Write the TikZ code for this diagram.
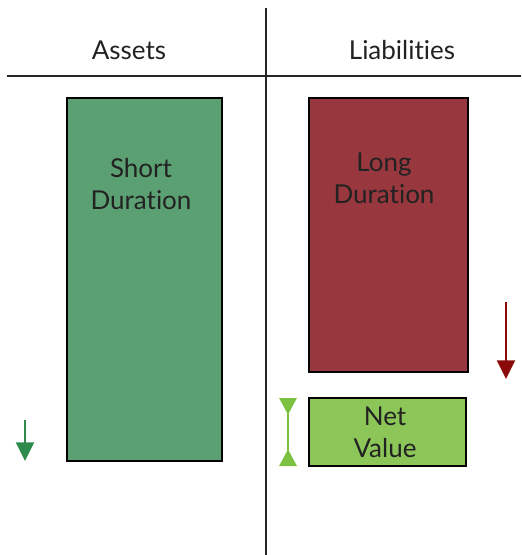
\documentclass[tikz,border=0pt]{standalone}
\usepackage{fontspec}
\setmainfont[Ligatures={NoCommon,NoRare}]{Lato}
\usetikzlibrary{arrows.meta}
\definecolor{assetgreen}{HTML}{5BA072}
\definecolor{liabred}{HTML}{98373D}
\definecolor{netgreen}{HTML}{8CC558}
\definecolor{arrgreen}{HTML}{2E8B4C}
\definecolor{arrlight}{HTML}{7DC142}
\definecolor{arrred}{HTML}{8B0A0A}
\definecolor{txt}{HTML}{222222}
\tikzset{
  boxstyle/.style={draw=black, line width=1.5pt, inner sep=0pt},
  headtext/.style={font=\fontsize{19.5}{22}\selectfont, text=txt},
  boxtext/.style={font=\fontsize{19.5}{24}\selectfont, text=txt, align=center},
  rule/.style={draw=black!85, line width=1.1pt},
}
\begin{document}
\begin{tikzpicture}[x=0.75pt,y=-0.75pt]
\useasboundingbox (0,0) rectangle (521,555);
% rules
\coordinate (vtop) at (266,8);
\coordinate (vbot) at (266,555);
\coordinate (hl) at (7,76);
\coordinate (hr) at (521,76);
\draw[rule] (vtop) -- (vbot);
\draw[rule] (hl) -- (hr);
% headings
\node[headtext] (assets) at (129,50) {Assets};
\node[headtext] (liab) at (402,50) {Liabilities};
% boxes
\draw[boxstyle, fill=assetgreen] (67,98) rectangle (222,461);
\node[boxtext] (short) at (141,184) {Short\\Duration};
\draw[boxstyle, fill=liabred] (309,98) rectangle (468,372);
\node[boxtext] (long) at (384,178) {Long\\Duration};
\draw[boxstyle, fill=netgreen] (309,398) rectangle (466,466);
\node[boxtext] (net) at (385,432) {Net\\Value};
% arrows
\coordinate (ga1) at (25,420);
\coordinate (ga2) at (25,461);
\draw[arrgreen, line width=1.6pt, -{Triangle[width=13.5pt,length=14pt]}] (ga1) -- (ga2);
\coordinate (ra1) at (506,302);
\coordinate (ra2) at (506,379);
\draw[arrred, line width=1.6pt, -{Triangle[width=13.5pt,length=14pt]}] (ra1) -- (ra2);
\coordinate (na1) at (288,398);
\coordinate (na2) at (288,466);
\draw[arrlight, line width=1.6pt, {Triangle[reversed,width=13pt,length=12.5pt]}-{Triangle[reversed,width=13pt,length=12.5pt]}] (na1) -- (na2);
\end{tikzpicture}
\end{document}
